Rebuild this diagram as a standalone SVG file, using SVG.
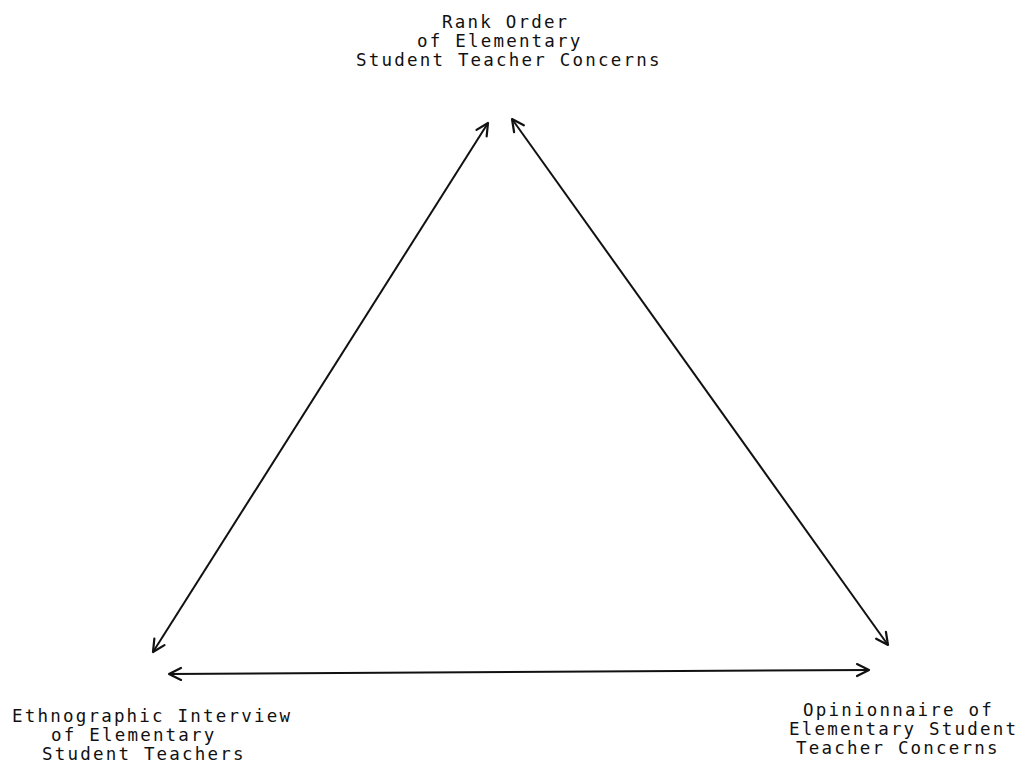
<svg xmlns="http://www.w3.org/2000/svg" width="1027" height="776" viewBox="0 0 1027 776">
<style>
text{font-family:"DejaVu Sans Mono","Liberation Mono",monospace;font-size:17.5px;fill:#111;letter-spacing:2.2px}
.c{stroke:#111;stroke-width:2;fill:none}
</style>
<defs>
<marker id="ah" viewBox="-14 -8 16 16" markerWidth="16" markerHeight="16" refX="0" refY="0" orient="auto-start-reverse" markerUnits="userSpaceOnUse">
<path d="M-12,-6 L0,0 L-12,6" fill="none" stroke="#111" stroke-width="2.2" stroke-linecap="round" stroke-linejoin="round"/>
</marker>
</defs>
<rect width="1027" height="776" fill="#fff"/>
<g id="connectors">
<line class="c" x1="488" y1="123" x2="153" y2="652" marker-start="url(#ah)" marker-end="url(#ah)"/>
<line class="c" x1="512" y1="119" x2="888" y2="645" marker-start="url(#ah)" marker-end="url(#ah)"/>
<line class="c" x1="169" y1="674" x2="869" y2="670" marker-start="url(#ah)" marker-end="url(#ah)"/>
</g>
<g id="node-rank-order">
<text x="442" y="28">Rank Order</text>
<text x="417" y="47">of Elementary</text>
<text x="356" y="66">Student Teacher Concerns</text>
</g>
<g id="node-ethnographic">
<text x="12" y="722">Ethnographic Interview</text>
<text x="51" y="741">of Elementary</text>
<text x="42" y="760">Student Teachers</text>
</g>
<g id="node-opinionnaire">
<text x="803" y="716">Opinionnaire of</text>
<text x="789" y="735">Elementary Student</text>
<text x="796" y="754">Teacher Concerns</text>
</g>
</svg>
